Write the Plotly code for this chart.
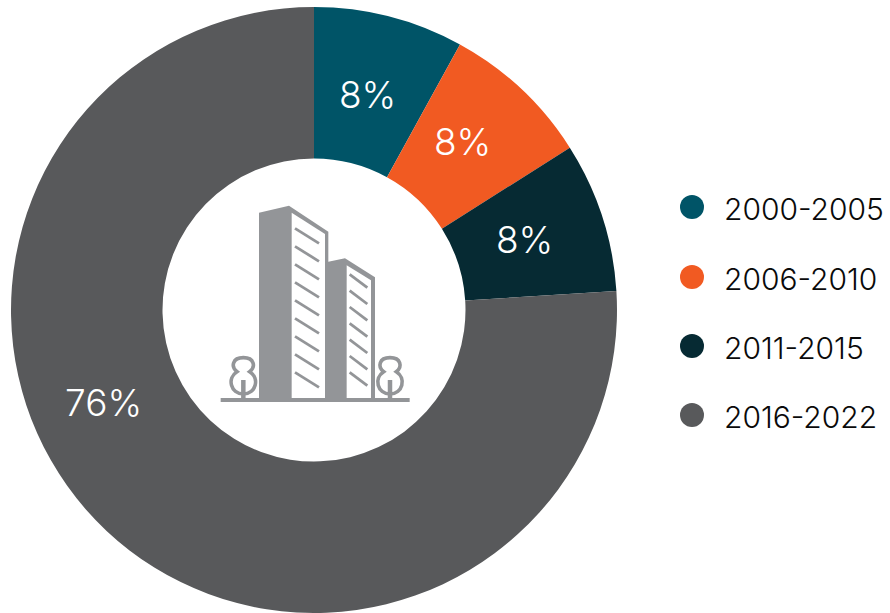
import plotly.graph_objects as go

# Share of buildings by construction period
periods = ["2000-2005", "2006-2010", "2011-2015", "2016-2022"]
shares = [8, 8, 8, 76]
colors = ["#005467", "#F15A22", "#062A33", "#58595B"]

W, H = 890, 613
FONT = "Inter"
ICON_GREY = "#939598"


def px(x):
    return x / W


def py(y):
    return 1 - y / H


def icon_pt(x, y):
    """Icon-local units (1/3 pixel, origin at 200,190) to paper coordinates."""
    return px(200 + x / 3), py(190 + y / 3)


def path(commands):
    out = []
    for c in commands:
        cmd, pts = c[0], c[1:]
        out.append(cmd + " ".join("%.5f,%.5f" % icon_pt(*p) for p in pts))
    return "".join(out)


def poly(points, close=True):
    cmds = [("M", points[0])] + [("L", p) for p in points[1:]]
    s = path(cmds)
    return s + "Z" if close else s


shapes = []


def add(d, fill=None, width=0):
    shape = dict(type="path", path=d, xref="paper", yref="paper", layer="above",
                 line=dict(color=ICON_GREY, width=width))
    if fill:
        shape["fillcolor"] = fill
    shapes.append(shape)


# Tower bodies
add(poly([(177, 68), (267, 47), (385, 125), (385, 215), (435, 205), (525, 262),
          (525, 625), (177, 625)]), fill=ICON_GREY)
# Lit faces of the towers
add(poly([(275, 68), (375, 132), (375, 625), (275, 625)]), fill="white")
add(poly([(440, 226), (513, 271), (513, 625), (440, 625)]), fill="white")
# Window strips
for y0 in [115, 169, 223, 277, 331, 385, 439, 493, 547]:
    add(poly([(285, y0), (357, y0 + 45)], close=False), width=2.8)
for y0 in [253, 302, 351, 400, 449, 498, 547]:
    add(poly([(449, y0), (502, y0 + 40)], close=False), width=2.8)
# Ground line
add(poly([(62, 630), (629, 630)], close=False), width=4)
# Trees
for cx in [130, 570]:
    add(path([("M", (cx, 503)),
              ("C", (cx + 33, 503), (cx + 38, 530), (cx + 19, 545)),
              ("C", (cx + 50, 565), (cx + 38, 612), (cx, 612)),
              ("C", (cx - 38, 612), (cx - 50, 565), (cx - 19, 545)),
              ("C", (cx - 38, 530), (cx - 33, 503), (cx, 503))]) + "Z", fill="white", width=3.6)
    add(poly([(cx, 570), (cx, 626)], close=False), width=4.5)

# Legend dots and labels
legend_x = 692
legend_y = [207, 277, 346, 415]
annotations = []
for name, color, y in zip(periods, colors, legend_y):
    shapes.append(dict(type="circle", xref="paper", yref="paper",
                       x0=px(legend_x - 12), x1=px(legend_x + 12),
                       y0=py(y - 12), y1=py(y + 12),
                       fillcolor=color, line=dict(width=0)))
    annotations.append(dict(text=name, x=px(722), y=py(y + 2), xref="paper", yref="paper",
                            xanchor="left", yanchor="middle", showarrow=False,
                            font=dict(family=FONT, size=30, color="#0a0a0a", weight=300)))

# Slice labels
label_xy = [(367, 94), (463, 141), (524, 239), (103, 402)]
for share, (x, y) in zip(shares, label_xy):
    annotations.append(dict(text=f"{share}%", x=px(x), y=py(y), xref="paper", yref="paper",
                            xanchor="center", yanchor="middle", showarrow=False,
                            font=dict(family=FONT, size=37, color="white", weight=300)))

fig = go.Figure(go.Pie(
    labels=periods, values=shares, hole=0.5, sort=False, direction="clockwise",
    rotation=0, marker=dict(colors=colors, line=dict(width=0)), textinfo="none",
    showlegend=False, domain=dict(x=[px(11), px(617)], y=[py(613), py(7)]),
))
fig.update_layout(width=W, height=H, margin=dict(l=0, r=0, t=0, b=0),
                  paper_bgcolor="white", shapes=shapes, annotations=annotations,
                  font=dict(family=FONT))
fig.write_html("out.html")
